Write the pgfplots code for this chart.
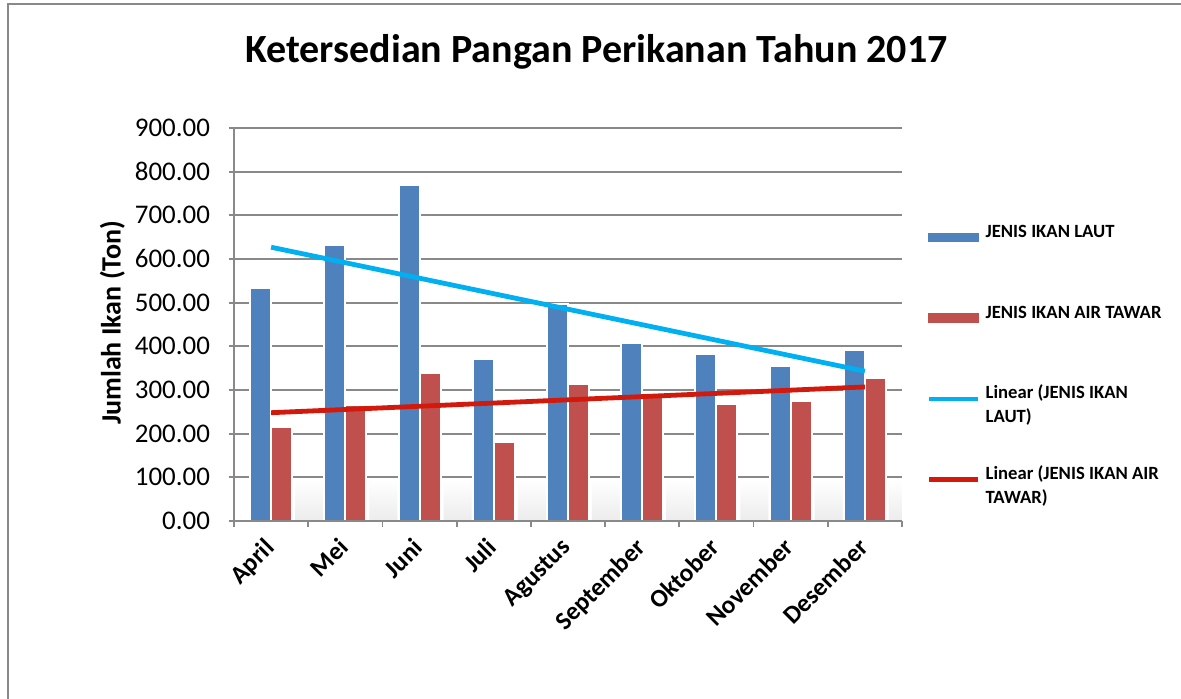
\documentclass[border=0pt]{standalone}
\usepackage{pgfplots}
\pgfplotsset{compat=1.18}
\usepackage{fontspec}
\setmainfont{Carlito}
\definecolor{barblue}{HTML}{4F81BD}
\definecolor{barred}{HTML}{C0504D}
\definecolor{trendcyan}{HTML}{00B0F0}
\definecolor{trendred}{HTML}{D3190C}
\definecolor{gridgray}{HTML}{898989}
\begin{document}
\begin{tikzpicture}
\useasboundingbox (0,0) rectangle (885.75pt,524.25pt);
\fill[white] (0,0) rectangle (885.75pt,524.25pt);
\draw[gridgray, line width=1.5pt] (5.625pt,0) -- (5.625pt,520.9pt) -- (885.75pt,520.9pt);
\begin{axis}[
 at={(175.5pt,133.5pt)}, anchor=south west, scale only axis,
 width=501pt, height=294.75pt,
 xmin=0.5, xmax=9.5, ymin=0, ymax=900,
 axis x line=bottom, axis y line=left,
 axis line style={-, draw=gridgray, line width=1.3pt},
 ymajorgrids, grid style={draw=gridgray, line width=1.3pt},
 ytick={0,100,...,900},
 xtick={1,...,9},
 xticklabels={April,Mei,Juni,Juli,Agustus,September,Oktober,November,Desember},
 minor xtick={0.5,1.5,...,9.5},
 tick align=outside,
 major tick length=4pt, minor tick length=4.5pt,
 major x tick style={draw=none},
 minor x tick style={draw=gridgray, line width=1.3pt},
 y tick style={draw=gridgray, line width=1.3pt},
 yticklabel style={font=\fontsize{20.2}{24}\selectfont, xshift=-10.5pt, /pgf/number format/.cd, fixed, fixed zerofill, precision=2, assume math mode=true},
 xticklabel style={font=\bfseries\fontsize{19}{22}\selectfont, xshift=-6pt, yshift=-3pt, rotate=45, anchor=north east},
 ylabel={Jumlah Ikan (Ton)},
 ylabel style={font=\bfseries\fontsize{21}{24}\selectfont, at={(axis description cs:-0.182,0.504)}, anchor=center},
 title={Ketersedian Pangan Perikanan Tahun 2017},
 title style={font=\bfseries\fontsize{30}{35}\selectfont, at={(axis description cs:0.5427,1.146)}, anchor=base},
 legend style={at={(axis description cs:1.036,0.7557)}, anchor=north west, draw=none, fill=none, inner sep=0pt, row sep=0pt, column sep=4pt, font=\bfseries\fontsize{14}{17.6}\selectfont, nodes={inner sep=0pt, text height=10pt, text depth=50.5pt}, cells={anchor=base west}},
]
% soft shadows cast by the bars
\addplot[ybar, bar width=21pt, bar shift=28.5pt, draw=none, top color=white, middle color=gray!42, bottom color=gray!15, forget plot]
  coordinates {(1,95) (2,95) (3,95) (4,95) (5,95) (6,95) (7,95) (8,95) (9,95)};
\addplot[ybar, bar width=15.75pt, bar shift=-7.875pt, fill=barblue, draw=white, line width=1.5pt,
  legend image code/.code={\fill[barblue] (0pt,-2.9pt) rectangle (37pt,2.9pt);}]
  coordinates {(1,533) (2,633) (3,769) (4,372) (5,498) (6,408) (7,382) (8,355) (9,392)};
\addlegendentry{JENIS IKAN LAUT}
\addplot[ybar, bar width=15.75pt, bar shift=7.875pt, fill=barred, draw=white, line width=1.5pt,
  legend image code/.code={\fill[barred] (0pt,-2.9pt) rectangle (37pt,2.9pt);}]
  coordinates {(1,215) (2,266) (3,338) (4,180) (5,314) (6,288) (7,269) (8,275) (9,327)};
\addlegendentry{JENIS IKAN AIR TAWAR}
\draw[gridgray, line width=1.3pt] (axis cs:0.5,0) -- (axis cs:9.5,0);
\addplot[sharp plot, no marks, trendcyan, line width=3.6pt,
  legend image code/.code={\draw[trendcyan, line width=3.5pt] (0pt,0pt) -- (37pt,0pt);}]
  coordinates {(1,627) (9,343)};
\addlegendentry{\begin{tabular}[t]{@{}l@{}}Linear (JENIS IKAN\\LAUT)\end{tabular}}
\addplot[sharp plot, no marks, trendred, line width=3.6pt,
  legend image code/.code={\draw[trendred, line width=3.5pt] (0pt,0pt) -- (37pt,0pt);}]
  coordinates {(1,248) (9,307)};
\addlegendentry{\begin{tabular}[t]{@{}l@{}}Linear (JENIS IKAN AIR\\TAWAR)\end{tabular}}
\end{axis}
\end{tikzpicture}
\end{document}
